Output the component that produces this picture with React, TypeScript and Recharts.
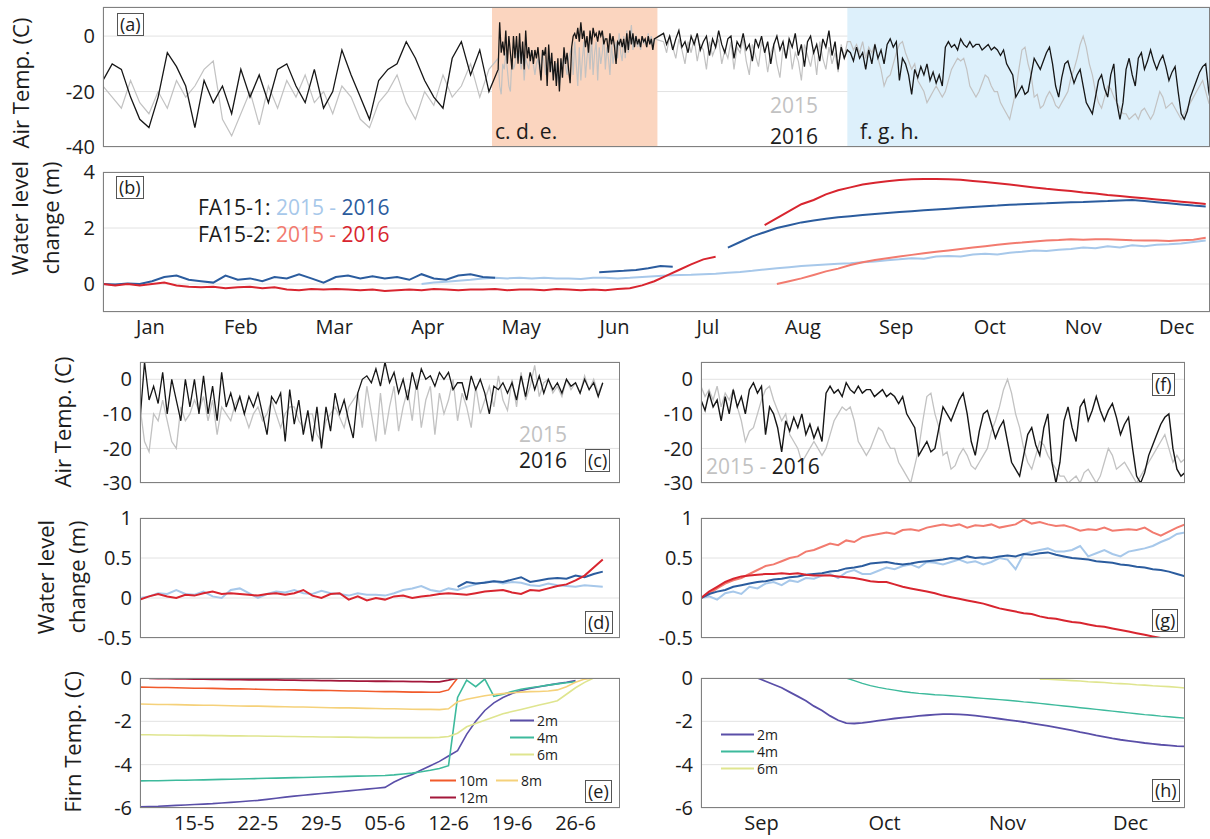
import React from 'react';
import { LineChart, Line, XAxis, YAxis, CartesianGrid, ReferenceArea } from 'recharts';

const FONT = '"Open Sans", "Noto Sans", sans-serif';
const INK = '#1c1c1c';
const GRID = '#e2e2e2';
const FRAME = '#808080';

const COLORS = {
  gray15: '#c2c2c2',
  black16: '#161616',
  lightBlue: '#a7c8ea',
  darkBlue: '#2b5c9e',
  lightRed: '#f27b6f',
  red: '#d8252f',
  m2: '#5a4fa8',
  m4: '#3dba9c',
  m6: '#dfe58f',
  m8: '#f5d17a',
  m10: '#f15a2b',
  m12: '#a3173a',
  peach: '#fbd5bf',
  sky: '#ddf0fb',
};

// ---- axes / ticks ----
const monthNames = ['Jan', 'Feb', 'Mar', 'Apr', 'May', 'Jun', 'Jul', 'Aug', 'Sep', 'Oct', 'Nov', 'Dec'];
const monthStarts = [0, 31, 60, 91, 121, 152, 182, 213, 244, 274, 305, 335];
const monthMids = [15.5, 45, 75.5, 106, 136.5, 167, 197.5, 228.5, 259, 289.5, 320, 350.5];
const fallMonthNames = ['Sep', 'Oct', 'Nov', 'Dec'];
const fallMonthStarts = [274, 305, 335];
const fallMonthMids = [259, 289.5, 320, 350.5];
const weekDays = [135, 142, 149, 156, 163, 170, 177];
const weekNames = ['15-5', '22-5', '29-5', '05-6', '12-6', '19-6', '26-6'];

// ---- air temperature Jan-early May, every 3 days from day 0 ----
const airWinter2015 = [
  -18, -22, -26, -16, -24, -28, -20, -26, -16, -22, -18, -12, -9, -30, -36, -28, -20, -32, -18, -26,
  -16, -22, -14, -24, -20, -28, -18, -22, -30, -33, -24, -20, -14, -24, -30, -20, -25, -14, -22, -18,
  -10, -22, -12,
];
const airWinter2016 = [
  -16, -10, -12, -22, -30, -33, -22, -6, -11, -18, -33, -16, -24, -18, -28, -12, -22, -14, -24, -12,
  -10, -18, -24, -12, -26, -20, -5, -14, -22, -30, -16, -12, -10, -2, -8, -16, -22, -26, -8, -2,
  -14, -5, -20,
];

// ---- air temperature July-Aug, daily from day 183 ----
const airSummer2015 = [
  -2, -6, 0, -4, -8, -1, -5, -10, -2, -6, -1, -9, -3, -5, -12, -2, -7, -4, -1, -10,
  -5, -8, -2, -12, -4, -6, -1, -9, -14, -3, -7, -11, -2, -5, -13, -6, -3, -10, -15, -4,
  -8, -2, -12, -6, -9, -16, -3, -7, -11, -5, -14, -2, -8, -12, -4, -10, -6, -13, -3, -8,
  -2,
];
const airSummer2016 = [
  1, -3, 0, -5, -1, 2, -4, -2, -6, 0, -3, 1, -5, -2, 0, -7, -1, -4, 2, -3,
  -6, -1, 0, -8, -2, -4, 1, -5, -3, -9, -1, -4, 0, -6, -2, -10, -3, 0, -5, -2,
  -8, -1, -4, 1, -7, -3, -11, -2, 0, -6, -3, -9, -1, -4, 2, -7, -2, -12, -4, -8,
  -5,
];

// ---- (c) air temperature May-June, every half day from day 129 ----
const airSpring2015 = [
  -8, -18, -21, -10, -12, -6, -12, -18, -20, -8, -12, -10, -6, -9, -5, -12, -6, -16, -8, -10,
  -12, -7, -5, -10, -14, -10, -8, -12, -10, -6, -10, -14, -10, -8, -8, -12, -14, -10, -10, -16,
  -18, -12, -10, -8, -11, -14, -8, -6, -4, -14, -2, -10, -18, -4, -16, -8, -2, -15, -8, -3,
  -12, 0, -14, -6, -2, -16, -4, -10, -6, 0, -12, -4, -8, -14, -2, -10, -6, -2, -8, 1,
  -6, -9, 0, -8, 2, -6, -2, 4, -5, -1, 0, -4, -2, -5, 0, -3, -1, -4, 1, -3,
  0, -4, -1,
];
const airSpring2016 = [
  -12, 5, -6, -2, -7, 2, -10, 0, -6, -12, 0, -8, 0, -10, 1, -10, -2, -12, 2, -8,
  -4, -9, -5, -10, -5, -8, -4, -10, -16, -5, -7, -4, -18, -3, -13, -6, -16, -9, -18, -8,
  -20, -8, -15, -4, -10, -6, -12, -17, -4, 0, 1, -1, 3, -2, 5, -1, 2, -4, 0, -6,
  2, -3, 3, 0, 1, -2, 2, 0, 2, -3, -1, -1, -6, 1, -3, 0, -4, -10, -2, -3,
  -1, -4, -1, -6, 1, -5, 2, -3, 1, -4, 0, -3, -1, -4, 0, -2, -1, -4, 0, -3,
  -1, -5, -1,
];

// ---- (f) air temperature Sep-Dec, daily from day 244 ----
const airFall2015 = [
  -2, -5, -3, -6, -2, -8, -4, -6, -3, -8, -12, -18, -15, -14, -10, -6, -3, -2, -6, -9,
  -12, -10, -16, -18, -20, -24, -22, -20, -18, -20, -22, -20, -16, -12, -10, -8, -9, -8, -12, -18,
  -20, -22, -20, -17, -14, -15, -18, -20, -20, -24, -26, -28, -30, -25, -20, -12, -5, -4, -10, -14,
  -22, -21, -26, -25, -22, -20, -22, -25, -26, -24, -22, -20, -15, -12, -8, -3, 0, -4, -10, -14,
  -20, -24, -26, -22, -18, -19, -22, -24, -26, -28, -28, -30, -29, -28, -30, -27, -26, -28, -30, -28,
  -24, -20, -22, -26, -25, -24, -26, -28, -30, -28, -26, -24, -22, -20, -18, -16, -20, -24, -22, -24,
  -23,
];
const airFall2016 = [
  -6, -9, -4, -8, -6, -12, -5, -10, -3, -8, -5, -10, -3, -1, -4, -2, -16, -8, -10, -14,
  -21, -12, -15, -11, -14, -10, -16, -13, -17, -14, -18, -4, -2, -4, -3, -5, -1, -3, -4, -2,
  -4, -3, -3, -5, -4, -3, -5, -4, -5, -7, -5, -10, -12, -14, -22, -20, -18, -21, -20, -14,
  -8, -10, -12, -9, -6, -4, -10, -18, -22, -15, -10, -9, -13, -17, -14, -12, -18, -24, -26, -28,
  -22, -16, -14, -19, -22, -14, -10, -24, -30, -24, -12, -8, -14, -18, -8, -6, -12, -9, -5, -9,
  -12, -9, -7, -11, -16, -13, -11, -20, -28, -30, -27, -22, -19, -16, -13, -11, -10, -20, -26, -28,
  -27,
];

// ---- (b) water level, every 4 days ----
const fa151y2015 = [
  0.0, 0.05, 0.08, 0.12, 0.15, 0.2, 0.22, 0.2, 0.22, 0.2,
  0.22, 0.2, 0.2, 0.18, 0.22, 0.22, 0.2, 0.22, 0.25, 0.28,
  0.3, 0.32, 0.33, 0.35, 0.37, 0.4, 0.43, 0.47, 0.52, 0.56,
  0.6, 0.64, 0.67, 0.7, 0.72, 0.74, 0.78, 0.8, 0.85, 0.88,
  0.92, 0.9, 0.98, 1.0, 0.98, 1.05, 1.08, 1.05, 1.12, 1.15,
  1.2, 1.18, 1.22, 1.25, 1.3, 1.28, 1.35, 1.3, 1.38, 1.35,
  1.4, 1.42, 1.45, 1.5, 1.55,
];
const fa151y2016a = [
  0, -0.02, 0.02, 0.0, 0.1, 0.25, 0.3, 0.15, 0.1, 0.05, 0.3, 0.15, 0.2, 0.1, 0.25, 0.2, 0.35,
  0.2, 0.05, 0.25, 0.3, 0.2, 0.28, 0.2, 0.25, 0.15, 0.35, 0.2, 0.15, 0.3, 0.35, 0.25, 0.22,
];
const fa151y2016b = [0.42, 0.45, 0.47, 0.5, 0.56, 0.64, 0.62];
const fa151y2016c = [
  1.3, 1.5, 1.7, 1.85, 2.0, 2.1, 2.2, 2.27, 2.33, 2.38, 2.42, 2.46, 2.5, 2.54, 2.57, 2.6, 2.63, 2.66, 2.69, 2.72,
  2.75, 2.78, 2.8, 2.83, 2.85, 2.87, 2.88, 2.9, 2.92, 2.93, 2.95, 2.96, 2.98, 3.0, 2.96, 2.92, 2.88, 2.84, 2.8, 2.77,
];
const fa152y2015 = [
  0.0, 0.1, 0.2, 0.32, 0.45, 0.55, 0.68, 0.78, 0.86, 0.92,
  0.98, 1.04, 1.1, 1.15, 1.2, 1.25, 1.3, 1.35, 1.4, 1.45,
  1.48, 1.52, 1.55, 1.57, 1.6, 1.58, 1.6, 1.6, 1.58, 1.56,
  1.55, 1.55, 1.54, 1.56, 1.58, 1.65,
];
const fa152y2016a = [
  0, -0.05, 0, -0.05, 0, 0.05, -0.05, -0.1, -0.12, -0.1,
  -0.15, -0.12, -0.1, -0.15, -0.12, -0.2, -0.22, -0.18, -0.2, -0.18,
  -0.2, -0.22, -0.2, -0.25, -0.22, -0.2, -0.22, -0.18, -0.2, -0.22,
  -0.2, -0.2, -0.18, -0.22, -0.2, -0.2, -0.22, -0.18, -0.2, -0.22,
  -0.2, -0.22, -0.18, -0.15, -0.05, 0.1, 0.3, 0.5, 0.7, 0.88, 0.97,
];
const fa152y2016b = [
  2.1, 2.35, 2.6, 2.85, 3.0, 3.2, 3.35, 3.45, 3.55, 3.62, 3.67, 3.71, 3.74, 3.75, 3.75, 3.74, 3.72, 3.68, 3.64,
  3.6, 3.55, 3.5, 3.45, 3.4, 3.36, 3.32, 3.27, 3.23, 3.18, 3.14, 3.1, 3.06, 3.02, 2.98, 2.94, 2.9, 2.86,
];

// ---- (d) water level May-June, daily from day 129 ----
const wlSpring151y2015 = [
  0.0, 0.02, 0.06, 0.05, 0.1, 0.05, 0.04, 0.08, 0.02, 0.0, 0.1, 0.12, 0.06, 0.0, 0.05, 0.08, 0.07, 0.1,
  0.06, 0.05, 0.09, 0.06, 0.05, 0.03, 0.06, 0.04, 0.04, 0.03, 0.06, 0.1, 0.12, 0.15, 0.1, 0.08, 0.12,
  0.1, 0.14, 0.17, 0.2, 0.21, 0.18, 0.2, 0.19, 0.16, 0.15, 0.18, 0.16, 0.15, 0.14, 0.16, 0.15, 0.14,
];
const wlSpring151y2016 = [0.14, 0.2, 0.18, 0.19, 0.21, 0.2, 0.23, 0.26, 0.2, 0.22, 0.24, 0.25, 0.24, 0.28, 0.26, 0.3, 0.33];
const wlSpring152y2016 = [
  -0.02, 0.02, 0.05, 0.02, 0.0, 0.04, 0.03, 0.06, 0.08, 0.05, 0.06, 0.05, 0.04, 0.03, 0.05, 0.06, 0.04,
  0.06, 0.1, 0.03, 0.0, 0.05, 0.06, -0.02, 0.02, -0.03, 0.0, -0.02, 0.02, 0.03, 0.0, 0.02, 0.03, 0.05,
  0.06, 0.05, 0.04, 0.06, 0.08, 0.09, 0.1, 0.07, 0.05, 0.1, 0.09, 0.12, 0.15, 0.17, 0.22, 0.28, 0.38, 0.48,
];

// ---- (g) water level Sep-Dec, every 2 days from day 244 ----
const wlFall151y2015 = [
  0, 0.02, -0.02, 0.06, 0.08, 0.05, 0.14, 0.12, 0.18, 0.2, 0.16, 0.22, 0.2, 0.25, 0.24, 0.28, 0.3, 0.25, 0.32, 0.35,
  0.3, 0.3, 0.34, 0.38, 0.36, 0.4, 0.42, 0.38, 0.45, 0.44, 0.42, 0.45, 0.48, 0.44, 0.46, 0.42, 0.45, 0.5, 0.48, 0.36,
  0.55, 0.58, 0.6, 0.62, 0.58, 0.58, 0.6, 0.65, 0.52, 0.56, 0.6, 0.55, 0.52, 0.58, 0.6, 0.62, 0.65, 0.7, 0.74, 0.8,
  0.82,
];
const wlFall151y2016 = [
  0, 0.05, 0.08, 0.1, 0.14, 0.16, 0.18, 0.2, 0.21, 0.23, 0.24, 0.26, 0.27, 0.29, 0.3, 0.31, 0.33, 0.34, 0.37, 0.38,
  0.4, 0.43, 0.44, 0.45, 0.43, 0.42, 0.43, 0.45, 0.46, 0.47, 0.48, 0.5, 0.49, 0.52, 0.5, 0.51, 0.5, 0.52, 0.53, 0.52,
  0.55, 0.54, 0.56, 0.57, 0.54, 0.52, 0.5, 0.49, 0.48, 0.46, 0.45, 0.44, 0.42, 0.41, 0.39, 0.38, 0.36, 0.35, 0.33, 0.3,
  0.27,
];
const wlFall152y2015 = [
  0, 0.05, 0.12, 0.18, 0.22, 0.25, 0.3, 0.35, 0.4, 0.42, 0.46, 0.5, 0.52, 0.58, 0.6, 0.64, 0.68, 0.66, 0.72, 0.7,
  0.76, 0.78, 0.8, 0.82, 0.8, 0.85, 0.86, 0.84, 0.88, 0.9, 0.92, 0.9, 0.92, 0.88, 0.91, 0.9, 0.92, 0.88, 0.9, 0.92,
  0.98, 0.93, 0.95, 0.92, 0.9, 0.91, 0.88, 0.84, 0.86, 0.85, 0.88, 0.84, 0.85, 0.86, 0.85, 0.88, 0.82, 0.78, 0.83, 0.88,
  0.92,
];
const wlFall152y2016 = [
  0, 0.08, 0.14, 0.2, 0.24, 0.27, 0.28, 0.29, 0.3, 0.3, 0.31, 0.3, 0.31, 0.29, 0.28, 0.28, 0.28, 0.27, 0.26, 0.25,
  0.23, 0.21, 0.2, 0.2, 0.17, 0.14, 0.12, 0.1, 0.08, 0.06, 0.03, 0.01, -0.01, -0.03, -0.05, -0.07, -0.1, -0.13, -0.15, -0.17,
  -0.19, -0.2, -0.23, -0.25, -0.26, -0.28, -0.3, -0.31, -0.33, -0.35, -0.36, -0.38, -0.4, -0.42, -0.44, -0.46, -0.48, -0.5, -0.52,
];

// ---- (e) firn temperature May-June, daily ----
const firn2mSpring = [
  -5.95, -5.93, -5.92, -5.9, -5.88, -5.86, -5.84, -5.82, -5.8, -5.77, -5.74, -5.71, -5.68, -5.65, -5.6, -5.55,
  -5.5, -5.45, -5.41, -5.37, -5.33, -5.29, -5.25, -5.21, -5.17, -5.13, -5.09, -5.05, -4.8, -4.6, -4.45, -4.25,
  -4.05, -3.85, -3.6, -3.35, -2.6, -2.0, -1.5, -1.15, -0.9, -0.72, -0.58, -0.48, -0.4, -0.33, -0.26, -0.2, -0.12,
];
const firn4mSpring = [
  -4.75, -4.74, -4.74, -4.73, -4.72, -4.72, -4.71, -4.7, -4.69, -4.68, -4.67, -4.66, -4.65, -4.64, -4.63, -4.62,
  -4.61, -4.6, -4.59, -4.58, -4.57, -4.56, -4.55, -4.54, -4.53, -4.52, -4.51, -4.5, -4.47, -4.43, -4.39, -4.33,
  -4.26, -4.18, -4.05, -0.9, -0.1, -0.4, -0.05, -0.85, -0.75, -0.62, -0.52, -0.45, -0.39, -0.33, -0.27, -0.22, -0.17,
];
const firn6mSpring = [
  -2.62, -2.62, -2.63, -2.63, -2.64, -2.64, -2.65, -2.65, -2.66, -2.66, -2.67, -2.67, -2.68, -2.68, -2.69, -2.69,
  -2.7, -2.7, -2.71, -2.71, -2.72, -2.72, -2.73, -2.73, -2.74, -2.74, -2.75, -2.75, -2.75, -2.75, -2.75, -2.75,
  -2.75, -2.74, -2.7, -2.55, -2.25, -2.1, -1.95, -1.8, -1.65, -1.55, -1.45, -1.35, -1.25, -1.15, -1.05, -0.75,
  -0.45, -0.2, 0,
];
const firn8mSpring = [
  -1.2, -1.21, -1.22, -1.22, -1.23, -1.24, -1.25, -1.26, -1.26, -1.27, -1.28, -1.29, -1.3, -1.3, -1.31, -1.32,
  -1.33, -1.34, -1.34, -1.35, -1.36, -1.37, -1.38, -1.38, -1.39, -1.4, -1.41, -1.42, -1.42, -1.43, -1.44, -1.45,
  -1.45, -1.46, -1.42, -1.1, -0.98, -0.9, -0.82, -0.76, -0.72, -0.68, -0.65, -0.63, -0.62, -0.6, -0.55, -0.4,
  -0.2, -0.05, 0,
];
const firn10mSpring = [
  -0.42, -0.43, -0.44, -0.44, -0.45, -0.46, -0.47, -0.47, -0.48, -0.49, -0.5, -0.5, -0.51, -0.52, -0.53, -0.54,
  -0.54, -0.55, -0.56, -0.57, -0.57, -0.58, -0.59, -0.6, -0.6, -0.61, -0.62, -0.63, -0.63, -0.64, -0.65, -0.65,
  -0.66, -0.66, -0.55, 0, 0, 0, 0, 0, 0, 0, 0, 0, 0, 0, 0, 0, 0, 0, 0,
];
const firn12mSpring = [
  -0.02, -0.03, -0.03, -0.04, -0.04, -0.05, -0.05, -0.06, -0.06, -0.07, -0.07, -0.08, -0.08, -0.09, -0.09,
  -0.1, -0.1, -0.11, -0.11, -0.12, -0.12, -0.13, -0.13, -0.14, -0.14, -0.15, -0.15, -0.16, -0.16, -0.17,
  -0.17, -0.18, -0.18, -0.1, 0, 0, 0, 0, 0, 0, 0, 0, 0, 0, 0,
];

// ---- (h) firn temperature Sep-Dec, every 2 days ----
const firn2mFall = [
  0, -0.15, -0.3, -0.45, -0.65, -0.85, -1.05, -1.3, -1.5, -1.75, -1.95, -2.08, -2.1, -2.07, -2.02, -1.97, -1.92, -1.87,
  -1.83, -1.79, -1.75, -1.72, -1.69, -1.67, -1.67, -1.68, -1.7, -1.74, -1.78, -1.83, -1.88, -1.93, -1.98, -2.03, -2.09,
  -2.15, -2.21, -2.28, -2.35, -2.42, -2.5, -2.57, -2.65, -2.72, -2.79, -2.85, -2.9, -2.95, -3.0, -3.04, -3.08, -3.11,
  -3.14, -3.16,
];
const firn4mFall = [
  0, -0.12, -0.25, -0.35, -0.43, -0.5, -0.56, -0.62, -0.67, -0.71, -0.74, -0.77, -0.79, -0.82, -0.85, -0.88, -0.91,
  -0.94, -0.97, -1.0, -1.03, -1.06, -1.1, -1.13, -1.17, -1.21, -1.25, -1.29, -1.33, -1.37, -1.41, -1.45, -1.49, -1.53,
  -1.57, -1.61, -1.65, -1.69, -1.72, -1.76, -1.79, -1.82, -1.85,
];
const firn6mFall = [
  -0.05, -0.06, -0.08, -0.1, -0.12, -0.14, -0.17, -0.19, -0.21, -0.24, -0.26, -0.28, -0.31, -0.33, -0.36, -0.38, -0.4,
  -0.43, -0.46,
];

type Pt = { day: number; v: number };
const pts = (start: number, step: number, values: number[]): Pt[] =>
  values.map((v, i) => ({ day: start + i * step, v }));

// whole-year air temperature = the four period records joined
const airYear2015 = [
  ...pts(0, 3, airWinter2015),
  ...pts(129, 0.5, airSpring2015),
  ...pts(183, 1, airSummer2015),
  ...pts(244, 1, airFall2015),
];
const airYear2016 = [
  ...pts(0, 3, airWinter2016),
  ...pts(129, 0.5, airSpring2016),
  ...pts(183, 1, airSummer2016),
  ...pts(244, 1, airFall2016),
];

type Box = { x: number; y: number; w: number; h: number };
const BOX_A: Box = { x: 103, y: 7, w: 1107, h: 140 };
const BOX_B: Box = { x: 103, y: 172, w: 1107, h: 140 };
const BOX_C: Box = { x: 140, y: 362, w: 480, h: 121 };
const BOX_F: Box = { x: 701, y: 362, w: 484, h: 121 };
const BOX_D: Box = { x: 140, y: 518, w: 480, h: 120 };
const BOX_G: Box = { x: 701, y: 518, w: 484, h: 120 };
const BOX_E: Box = { x: 140, y: 678, w: 480, h: 130 };
const BOX_H: Box = { x: 701, y: 678, w: 484, h: 130 };

const YEAR: [number, number] = [0, 361.4];
const SPRING: [number, number] = [129, 181.9];
const FALL: [number, number] = [244, 364];

const tickStyle = { fill: INK, fontSize: 20, fontFamily: FONT };

const line = (key: string, data: Pt[], color: string, width = 1.6) => (
  <Line
    key={key}
    xAxisId="g"
    data={data}
    dataKey="v"
    type="linear"
    stroke={color}
    strokeWidth={width}
    dot={false}
    activeDot={false}
    isAnimationActive={false}
  />
);

function Panel({ box, xDomain, yDomain, yTicks, gridTicks, labelTicks, labelFmt, children }: any) {
  const yW = 70;
  const pad = 16;
  const xH = labelTicks ? 34 : 0;
  const padB = labelTicks ? 0 : 16;
  return (
    <div style={{ position: 'absolute', left: box.x - yW, top: box.y - pad }}>
      <LineChart
        width={yW + box.w}
        height={pad + box.h + xH + padB}
        margin={{ top: pad, right: 0, bottom: padB, left: 0 }}
      >
        {children[0]}
        <CartesianGrid xAxisId="g" stroke={GRID} />
        <XAxis
          xAxisId="g"
          dataKey="day"
          type="number"
          domain={xDomain}
          ticks={gridTicks}
          allowDataOverflow
          tick={false}
          tickLine={false}
          axisLine={false}
          height={0}
        />
        {labelTicks && (
          <XAxis
            xAxisId="l"
            dataKey="day"
            type="number"
            domain={xDomain}
            ticks={labelTicks}
            tickFormatter={labelFmt}
            interval={0}
            allowDataOverflow
            tickLine={false}
            axisLine={false}
            height={xH}
            tick={tickStyle}
          />
        )}
        <YAxis
          type="number"
          domain={yDomain}
          ticks={yTicks}
          interval={0}
          allowDataOverflow
          width={yW}
          tickLine={false}
          axisLine={false}
          tick={tickStyle}
        />
        {children.slice(1)}
      </LineChart>
      <div
        style={{
          position: 'absolute',
          left: yW,
          top: pad,
          width: box.w,
          height: box.h,
          border: `1px solid ${FRAME}`,
          boxSizing: 'border-box',
          pointerEvents: 'none',
        }}
      />
    </div>
  );
}

function Txt({ x, y, color = INK, size = 21, children }: any) {
  return (
    <div
      style={{
        position: 'absolute',
        left: x,
        top: y,
        transform: 'translateY(-50%)',
        fontFamily: FONT,
        fontSize: size,
        color,
        whiteSpace: 'nowrap',
        lineHeight: 1,
      }}
    >
      {children}
    </div>
  );
}

function VTxt({ x, y, size = 22, children }: any) {
  return (
    <div
      style={{
        position: 'absolute',
        left: x,
        top: y,
        transform: 'translate(-50%, -50%) rotate(-90deg)',
        fontFamily: FONT,
        fontSize: size,
        color: INK,
        whiteSpace: 'nowrap',
        lineHeight: 1,
      }}
    >
      {children}
    </div>
  );
}

function Tag({ x, y, children }: any) {
  return (
    <div
      style={{
        position: 'absolute',
        left: x,
        top: y,
        border: '1px solid #555',
        background: '#fff',
        fontFamily: FONT,
        fontSize: 18,
        lineHeight: '21px',
        padding: '0 2px',
        color: INK,
      }}
    >
      {children}
    </div>
  );
}

function Key({ x, y, len, color, label }: any) {
  return (
    <div
      style={{
        position: 'absolute',
        left: x,
        top: y,
        height: 13,
        transform: 'translateY(-50%)',
        display: 'flex',
        alignItems: 'center',
      }}
    >
      <div style={{ width: len, height: 2, background: color }} />
      <span style={{ fontFamily: FONT, fontSize: 14, color: INK, marginLeft: 3, lineHeight: '13px' }}>{label}</span>
    </div>
  );
}

const fmtMonth = (v: number) => monthNames[monthMids.indexOf(v)];
const fmtFall = (v: number) => fallMonthNames[fallMonthMids.indexOf(v)];
const fmtWeek = (v: number) => weekNames[weekDays.indexOf(v)];

export default function App() {
  return (
    <div style={{ position: 'absolute', left: 0, top: 0, width: 1210, height: 839, background: '#fff', overflow: 'hidden' }}>
      {/* (a) */}
      <Panel box={BOX_A} xDomain={YEAR} yDomain={[-40, 10.5]} yTicks={[-40, -20, 0]} gridTicks={monthStarts}>
        {[
          [
            <ReferenceArea key="band-o" xAxisId="g" x1={127} x2={181} fill={COLORS.peach} fillOpacity={1} stroke="none" />,
            <ReferenceArea key="band-b" xAxisId="g" x1={243} x2={361.4} fill={COLORS.sky} fillOpacity={1} stroke="none" />,
          ],
          line('a15', airYear2015, COLORS.gray15, 1.2),
          line('a16', airYear2016, COLORS.black16, 1.3),
        ]}
      </Panel>

      {/* (b) */}
      <Panel
        box={BOX_B}
        xDomain={YEAR}
        yDomain={[-1, 4]}
        yTicks={[0, 2, 4]}
        gridTicks={monthStarts}
        labelTicks={monthMids}
        labelFmt={fmtMonth}
      >
        {[
          null,
          line('b1', pts(104, 4, fa151y2015), COLORS.lightBlue, 2),
          line('b2', pts(220, 4, fa152y2015), COLORS.lightRed, 2),
          line('b3', pts(0, 4, fa151y2016a), COLORS.darkBlue, 2),
          line('b4', pts(162, 4, fa151y2016b), COLORS.darkBlue, 2),
          line('b5', pts(204, 4, fa151y2016c), COLORS.darkBlue, 2),
          line('b6', pts(0, 4, fa152y2016a), COLORS.red, 2),
          line('b7', pts(216, 4, fa152y2016b), COLORS.red, 2),
        ]}
      </Panel>

      {/* (c) */}
      <Panel box={BOX_C} xDomain={SPRING} yDomain={[-30, 5]} yTicks={[-30, -20, -10, 0]} gridTicks={weekDays}>
        {[
          null,
          line('c15', pts(129, 0.5, airSpring2015), COLORS.gray15, 1.3),
          line('c16', pts(129, 0.5, airSpring2016), COLORS.black16, 1.3),
        ]}
      </Panel>

      {/* (f) */}
      <Panel box={BOX_F} xDomain={FALL} yDomain={[-30, 5]} yTicks={[-30, -20, -10, 0]} gridTicks={fallMonthStarts}>
        {[
          null,
          line('f15', pts(244, 1, airFall2015), COLORS.gray15, 1.3),
          line('f16', pts(244, 1, airFall2016), COLORS.black16, 1.4),
        ]}
      </Panel>

      {/* (d) */}
      <Panel box={BOX_D} xDomain={SPRING} yDomain={[-0.5, 1]} yTicks={[-0.5, 0, 0.5, 1]} gridTicks={weekDays}>
        {[
          null,
          line('d1', pts(129, 1, wlSpring151y2015), COLORS.lightBlue, 2),
          line('d2', pts(164, 1, wlSpring151y2016), COLORS.darkBlue, 2),
          line('d3', pts(129, 1, wlSpring152y2016), COLORS.red, 2),
        ]}
      </Panel>

      {/* (g) */}
      <Panel box={BOX_G} xDomain={FALL} yDomain={[-0.5, 1]} yTicks={[-0.5, 0, 0.5, 1]} gridTicks={fallMonthStarts}>
        {[
          null,
          line('g1', pts(244, 2, wlFall151y2015), COLORS.lightBlue, 2),
          line('g2', pts(244, 2, wlFall152y2015), COLORS.lightRed, 2),
          line('g3', pts(244, 2, wlFall151y2016), COLORS.darkBlue, 2),
          line('g4', pts(244, 2, wlFall152y2016), COLORS.red, 2),
        ]}
      </Panel>

      {/* (e) */}
      <Panel
        box={BOX_E}
        xDomain={SPRING}
        yDomain={[-6, 0]}
        yTicks={[-6, -4, -2, 0]}
        gridTicks={weekDays}
        labelTicks={weekDays}
        labelFmt={fmtWeek}
      >
        {[
          null,
          line('e2', pts(129, 1, firn2mSpring), COLORS.m2, 1.6),
          line('e4', pts(129, 1, firn4mSpring), COLORS.m4, 1.6),
          line('e6', pts(129, 1, firn6mSpring), COLORS.m6, 1.6),
          line('e8', pts(129, 1, firn8mSpring), COLORS.m8, 1.6),
          line('e10', pts(129, 1, firn10mSpring), COLORS.m10, 1.6),
          line('e12', pts(130, 1, firn12mSpring), COLORS.m12, 1.8),
        ]}
      </Panel>

      {/* (h) */}
      <Panel
        box={BOX_H}
        xDomain={FALL}
        yDomain={[-6, 0]}
        yTicks={[-6, -4, -2, 0]}
        gridTicks={fallMonthStarts}
        labelTicks={fallMonthMids}
        labelFmt={fmtFall}
      >
        {[
          null,
          line('h2', pts(258, 2, firn2mFall), COLORS.m2, 1.8),
          line('h4', pts(280, 2, firn4mFall), COLORS.m4, 1.4),
          line('h6', pts(328, 2, firn6mFall), COLORS.m6, 1.6),
        ]}
      </Panel>

      {/* axis titles */}
      <VTxt x={20} y={83}>Air Temp. (C)</VTxt>
      <VTxt x={19} y={218}>Water level</VTxt>
      <VTxt x={50} y={218}>change (m)</VTxt>
      <VTxt x={62} y={422}>Air Temp. (C)</VTxt>
      <VTxt x={45} y={577}>Water level</VTxt>
      <VTxt x={76} y={577}>change (m)</VTxt>
      <VTxt x={72} y={742}>Firn Temp. (C)</VTxt>

      {/* panel tags */}
      <Tag x={117} y={13}>(a)</Tag>
      <Tag x={116} y={176}>(b)</Tag>
      <Tag x={585} y={449}>(c)</Tag>
      <Tag x={585} y={611}>(d)</Tag>
      <Tag x={585} y={780}>(e)</Tag>
      <Tag x={1152} y={373}>(f)</Tag>
      <Tag x={1152} y={609}>(g)</Tag>
      <Tag x={1152} y={779}>(h)</Tag>

      {/* annotations */}
      <Txt x={495} y={131}>c. d. e.</Txt>
      <Txt x={860} y={131}>f. g. h.</Txt>
      <Txt x={770} y={105} color={COLORS.gray15}>2015</Txt>
      <Txt x={770} y={136}>2016</Txt>
      <Txt x={198} y={207}>
        FA15-1: <span style={{ color: COLORS.lightBlue }}>2015 - </span>
        <span style={{ color: COLORS.darkBlue }}>2016</span>
      </Txt>
      <Txt x={198} y={234}>
        FA15-2: <span style={{ color: COLORS.lightRed }}>2015 - </span>
        <span style={{ color: COLORS.red }}>2016</span>
      </Txt>
      <Txt x={519} y={434} color={COLORS.gray15}>2015</Txt>
      <Txt x={519} y={460}>2016</Txt>
      <Txt x={706} y={466}>
        <span style={{ color: COLORS.gray15 }}>2015 - </span>2016
      </Txt>

      {/* firn legends */}
      <Key x={510} y={720} len={24} color={COLORS.m2} label="2m" />
      <Key x={510} y={737} len={24} color={COLORS.m4} label="4m" />
      <Key x={510} y={754} len={24} color={COLORS.m6} label="6m" />
      <Key x={496} y={780} len={22} color={COLORS.m8} label="8m" />
      <Key x={430} y={780} len={26} color={COLORS.m10} label="10m" />
      <Key x={430} y={797} len={26} color={COLORS.m12} label="12m" />
      <Key x={721} y={734} len={33} color={COLORS.m2} label="2m" />
      <Key x={721} y={751} len={33} color={COLORS.m4} label="4m" />
      <Key x={721} y={768} len={33} color={COLORS.m6} label="6m" />
    </div>
  );
}
